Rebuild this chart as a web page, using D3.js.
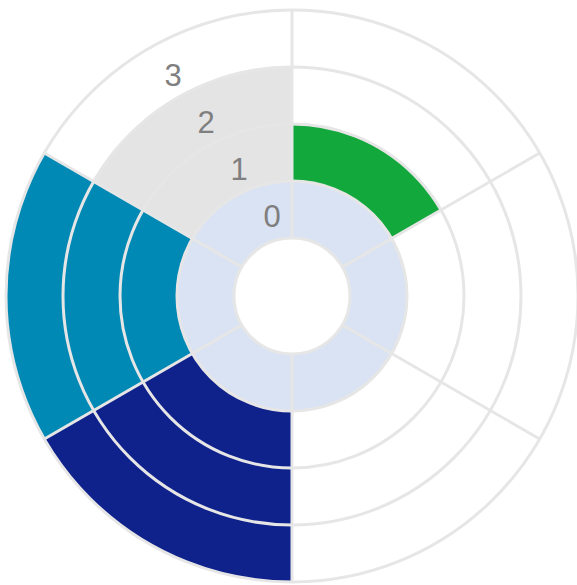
<!DOCTYPE html>
<html><head><meta charset="utf-8">
<script src="https://cdn.jsdelivr.net/npm/d3@7"></script>
<style>html,body{margin:0;padding:0;background:#fff;}svg{display:block;}</style>
</head><body>
<script>
const categories = ["A","B","C","D","E","F"];
const levels = [1, 0, 0, 3, 3, 2];
const sectorColors = ["#13a83c", null, null, "#0f218b", "#0089b4", "#e4e4e4"];
const baseColor = "#dae3f3";
const tickLabels = ["0","1","2","3"];

const W = 577, H = 585, cx = 292, cy = 296;
const svg = d3.select("body").append("svg").attr("width", W).attr("height", H);
const g = svg.append("g").attr("transform", `translate(${cx},${cy})`);

const r = d3.scaleLinear().domain([0, 4]).range([58, 286]);
const ang = d3.scaleBand().domain(categories).range([0, 2*Math.PI]).paddingInner(0).paddingOuter(0);
const arc = d3.arc();

// base ring (level 0)
categories.forEach((c) => {
  g.append("path").attr("d", arc({innerRadius: r(0), outerRadius: r(1), startAngle: ang(c), endAngle: ang(c)+ang.bandwidth()}))
    .attr("fill", baseColor);
});
// filled levels
categories.forEach((c, i) => {
  for (let k = 1; k <= levels[i]; k++) {
    g.append("path").attr("d", arc({innerRadius: r(k), outerRadius: r(k+1), startAngle: ang(c), endAngle: ang(c)+ang.bandwidth()}))
      .attr("fill", sectorColors[i]);
  }
});
// grid circles
const gridColor = "#e6e6e6";
d3.range(0, 5).forEach(k => {
  g.append("circle").attr("r", r(k)).attr("fill", "none").attr("stroke", gridColor).attr("stroke-width", 3);
});
// spokes
categories.forEach(c => {
  const a = ang(c);
  g.append("line")
    .attr("x1", Math.sin(a)*r(0)).attr("y1", -Math.cos(a)*r(0))
    .attr("x2", Math.sin(a)*r(4)).attr("y2", -Math.cos(a)*r(4))
    .attr("stroke", gridColor).attr("stroke-width", 3);
});
// tick labels
tickLabels.forEach((t, i) => {
  g.append("text")
    .attr("x", -20 - 33*i)
    .attr("y", -(r(i) + r(i+1))/2 + 9 + 10*i)
    .attr("text-anchor", "middle")
    .attr("dominant-baseline", "middle")
    .attr("font-family", "Liberation Sans, Arial, sans-serif")
    .attr("font-size", 31)
    .attr("fill", "#7f7f7f")
    .text(t);
});
</script>
</body></html>
